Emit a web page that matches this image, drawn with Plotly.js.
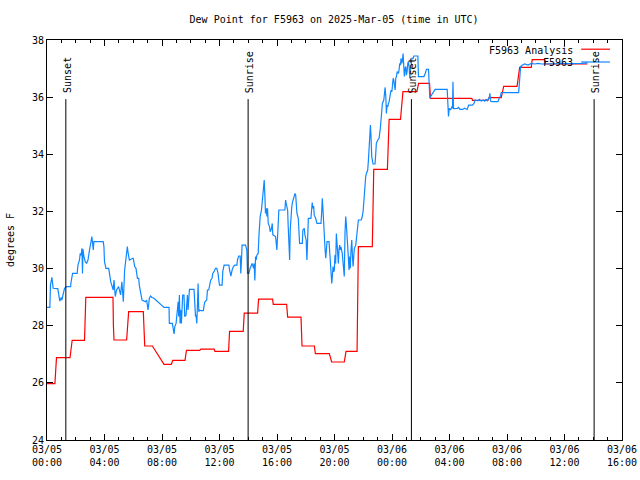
<!DOCTYPE html>
<html>
<head>
<meta charset="utf-8">
<script src="https://cdn.plot.ly/plotly-3.0.1.min.js"></script>
<style>html,body{margin:0;padding:0;background:#fff;}#chart{width:640px;height:480px;}</style>
</head>
<body>
<div id="chart"></div>
<script>
// Hours since 03/05 00:00 UTC
const tickHours = [0, 4, 8, 12, 16, 20, 24, 28, 32, 36, 40];
const tickDates = ['03/05','03/05','03/05','03/05','03/05','03/05','03/06','03/06','03/06','03/06','03/06'];
const tickTimes = ['00:00','04:00','08:00','12:00','16:00','20:00','00:00','04:00','08:00','12:00','16:00'];

const sunEvents = ['Sunset', 'Sunrise', 'Sunset', 'Sunrise'];
const sunHours = [1.31, 13.99, 25.35, 38.06];
const sunLineTop = 35.93;

const analysisName = 'F5963 Analysis';
const analysisHours = [0,0.55,0.66,1.6,1.75,2.61,2.7,4.59,4.62,4.66,5.54,5.68,6.7,6.8,7.33,8.14,8.65,8.75,9.6,9.7,
  10.63,10.7,11.63,11.68,12.63,12.7,13.65,13.72,14.65,14.72,15.69,15.74,16.67,16.74,17.67,17.74,18.6,18.67,19.64,19.8,
  20.68,20.8,21.57,21.66,22.63,22.73,23.68,23.8,24.59,24.76,25.73,25.85,26.61,26.68,29.55,29.6,30.67,30.75,31.6,31.77,
  32.7,32.88,33.69,33.75,34.62,34.68,37.6];
const analysisDewF = [25.97,25.97,26.88,26.88,27.49,27.49,28.99,28.99,28.0,27.5,27.5,28.49,28.49,27.29,27.29,26.65,26.65,26.79,26.79,27.14,
  27.14,27.18,27.18,27.1,27.1,27.8,27.8,28.44,28.44,28.93,28.93,28.75,28.75,28.3,28.3,27.29,27.29,27.02,27.02,26.73,
  26.73,27.1,27.1,30.77,30.77,33.47,33.47,35.22,35.22,36.19,36.19,36.48,36.48,35.96,35.96,35.89,35.89,35.98,35.98,36.38,
  36.38,37.04,37.04,37.31,37.31,37.16,37.16];

const stationName = 'F5963';
const stationHours = [
  0.0,0.2,0.24,0.34,0.43,0.66,0.75,0.89,0.99,1.03,1.13,1.22,1.36,1.64,1.68,1.78,2.1,2.15,2.26,2.31,
  2.38,2.43,2.47,2.5,2.57,2.66,2.75,2.85,2.94,2.99,3.08,3.12,3.22,3.26,3.91,3.96,4.0,4.1,4.29,4.33,
  4.43,4.61,4.66,4.75,4.84,4.98,5.12,5.21,5.31,5.4,5.49,5.59,5.63,5.73,5.96,6.0,6.1,6.19,6.29,6.38,
  6.42,6.52,6.61,6.84,6.93,7.03,7.12,7.21,7.3,7.44,8.14,8.49,8.51,8.72,8.79,8.84,8.89,8.98,9.07,9.12,
  9.16,9.21,9.26,9.3,9.35,9.39,9.44,9.53,9.58,9.67,9.77,9.81,9.86,9.91,10.23,10.28,10.33,10.37,10.42,10.47,
  10.51,10.56,10.6,10.7,10.88,10.93,10.98,11.11,11.16,11.25,11.3,11.39,11.48,11.53,11.62,11.72,11.81,11.9,11.95,12.0,
  12.18,12.23,12.32,12.65,12.7,12.79,12.88,12.97,13.07,13.21,13.25,13.34,13.44,13.48,13.53,13.57,13.81,13.86,13.9,13.95,
  14.04,14.13,14.23,14.27,14.37,14.41,14.46,14.51,14.55,14.6,14.69,14.74,14.79,14.83,14.92,14.97,15.02,15.06,15.11,15.16,
  15.2,15.25,15.3,15.34,15.39,15.48,15.53,15.62,15.67,15.71,15.9,15.95,15.99,16.04,16.13,16.55,16.6,16.64,16.69,16.74,
  16.78,16.83,16.88,16.92,16.97,17.02,17.06,17.16,17.25,17.3,17.34,17.39,17.48,17.53,17.57,17.76,17.8,17.9,17.94,18.03,
  18.08,18.13,18.18,18.36,18.41,18.45,18.5,18.55,18.59,18.69,18.78,19.06,19.11,19.15,19.2,19.25,19.29,19.34,19.39,19.43,
  19.48,19.62,19.67,19.71,19.76,19.81,19.85,19.9,19.94,19.99,20.03,20.08,20.13,20.17,20.22,20.27,20.31,20.36,20.41,20.45,
  20.54,20.59,20.64,20.68,20.73,20.78,20.82,20.87,20.92,20.96,21.01,21.06,21.1,21.15,21.2,21.24,21.29,21.34,21.38,21.48,
  21.52,21.57,21.62,21.66,21.85,21.9,21.99,22.03,22.08,22.13,22.17,22.22,22.31,22.36,22.4,22.45,22.5,22.54,22.59,22.68,
  22.82,22.87,22.91,23.01,23.1,23.19,23.24,23.29,23.33,23.43,23.47,23.52,23.57,23.61,23.66,23.71,23.75,23.8,23.89,23.94,
  23.99,24.03,24.08,24.12,24.17,24.22,24.26,24.31,24.36,24.45,24.49,24.54,24.59,24.63,24.68,24.73,24.77,24.82,24.86,24.91,
  24.96,25.0,25.05,25.1,25.14,25.19,25.24,25.28,25.33,25.38,25.47,25.52,25.8,25.84,26.22,26.31,26.4,26.54,26.59,26.63,
  26.68,26.82,26.91,27.0,27.84,27.89,27.93,27.98,28.07,28.17,28.21,28.24,28.28,28.54,28.63,28.72,28.91,29.05,29.23,29.33,
  29.6,29.7,29.79,29.98,30.07,30.21,30.35,30.44,30.54,30.63,30.77,30.81,30.86,30.95,31.37,31.46,31.55,31.6,32.81,32.86,
  32.91,32.95,33.0,33.05,33.23,33.46,33.69,33.92,34.16,34.39,37.2,37.6];
const stationDewF = [
  28.64,28.64,29.42,29.69,29.31,29.31,29.3,28.86,28.99,28.9,29.19,29.31,29.37,29.37,29.54,29.83,29.83,30.12,30.3,30.53,
  30.47,30.71,29.83,30.68,30.42,30.24,30.18,30.3,30.59,30.82,31.0,31.12,30.65,30.94,30.94,30.77,30.24,30.01,30.01,29.89,
  29.54,29.25,29.6,29.02,29.25,29.37,29.08,29.54,28.84,29.95,30.42,30.77,30.59,30.3,30.36,30.36,30.07,30.01,29.66,29.66,
  29.42,29.19,28.9,28.84,28.9,28.55,28.96,29.04,28.99,28.96,28.64,28.64,28.08,28.08,27.91,27.71,27.97,28.08,28.55,28.84,
  28.32,29.07,28.08,28.55,28.08,28.67,29.07,29.07,28.32,28.37,29.07,28.55,28.84,29.27,29.27,28.55,28.32,28.37,28.08,28.78,
  29.48,28.49,28.55,28.53,28.53,28.72,28.84,28.9,29.25,29.25,29.37,29.6,29.66,29.83,29.89,30.01,30.01,29.83,29.6,29.42,
  29.42,29.9,30.12,30.12,29.95,29.74,29.95,30.07,30.12,30.12,30.3,30.44,30.44,29.83,30.3,30.82,30.82,30.74,30.65,29.83,
  29.83,30.01,30.12,30.18,30.01,30.18,29.58,30.42,30.3,30.47,30.53,31.12,31.64,31.82,32.05,32.34,32.63,32.87,33.1,32.5,
  31.93,32.11,31.82,32.11,31.58,31.47,31.29,31.41,31.58,31.18,31.12,30.88,30.65,31.12,32.05,32.05,32.4,32.28,32.11,32.05,
  31.47,30.82,30.3,31.35,32.05,32.11,32.28,32.52,32.63,32.57,32.28,31.93,31.76,31.29,30.88,30.88,31.35,31.41,31.18,31.0,
  30.3,31.0,31.76,31.76,32.05,32.31,32.11,32.19,31.87,31.76,31.58,31.58,31.99,32.46,32.05,31.41,31.18,30.71,30.36,30.65,
  30.94,30.94,30.59,30.18,29.72,29.48,29.72,30.07,29.89,29.95,30.47,30.18,31.23,30.88,30.47,30.18,30.65,30.82,30.65,30.76,
  30.53,30.18,29.95,29.72,31.23,31.82,31.58,31.29,30.76,30.42,29.95,30.42,30.01,30.65,31.0,30.53,30.07,30.42,30.71,30.82,
  31.0,31.18,31.41,31.7,31.7,31.76,31.99,32.28,32.69,33.1,33.22,33.33,33.45,33.8,34.27,34.62,35.02,34.62,33.92,33.66,
  33.66,34.03,34.38,34.5,34.56,34.91,35.26,35.49,35.78,35.9,36.19,36.34,36.02,35.43,35.72,35.67,35.78,35.84,36.13,36.25,
  36.19,36.48,36.66,36.6,36.42,36.25,36.66,36.72,36.89,36.83,36.95,37.18,37.12,37.36,37.18,37.3,37.53,36.95,36.72,37.01,
  37.07,36.77,36.89,37.18,37.24,37.07,36.66,37.01,37.07,37.36,37.36,37.44,37.44,36.72,36.72,36.83,36.97,36.97,36.48,35.96,
  36.02,36.13,36.19,36.27,36.27,35.55,35.32,35.61,35.55,35.67,35.61,36.54,35.6,35.61,35.64,35.57,35.57,35.61,35.57,35.72,
  35.72,35.78,35.9,35.87,35.92,35.86,35.9,35.86,35.92,35.87,35.99,36.13,35.86,35.84,35.84,35.96,36.04,36.16,36.16,36.48,
  37.01,37.09,37.07,37.12,37.16,37.12,37.18,37.16,37.18,37.16,37.18,37.2];

const RED = '#ff0000';
const BLUE = '#0f87ff';
const FONT = 'DejaVu Sans Mono, Liberation Mono, monospace';

const traces = [
  {x: analysisHours, y: analysisDewF, name: analysisName, type: 'scatter', mode: 'lines',
   line: {color: RED, width: 1.2}, showlegend: false, hoverinfo: 'skip'},
  {x: stationHours, y: stationDewF, name: stationName, type: 'scatter', mode: 'lines',
   line: {color: BLUE, width: 1.2}, showlegend: false, hoverinfo: 'skip'}
];

const shapes = [];
const annotations = [];
sunEvents.forEach((ev, i) => {
  shapes.push({type: 'line', xref: 'x', yref: 'y', x0: sunHours[i], x1: sunHours[i], y0: 24, y1: sunLineTop,
    line: {color: '#000', width: 1}});
  annotations.push({x: sunHours[i], y: sunLineTop, xref: 'x', yref: 'y', text: ev, showarrow: false,
    textangle: -90, xanchor: 'center', yanchor: 'bottom', xshift: 1, yshift: 4,
    font: {family: FONT, size: 10, color: '#000'}});
});

// Key (gnuplot-style: label right-aligned, sample line on the right)
const keyNames = [analysisName, stationName];
const keyColors = [RED, BLUE];
const keyRowY = [0.975, 0.943];
keyNames.forEach((nm, i) => {
  annotations.push({xref: 'paper', yref: 'paper', x: 0.918, y: keyRowY[i], xanchor: 'right', yanchor: 'middle',
    text: nm, showarrow: false, font: {family: FONT, size: 10, color: '#000'}});
  shapes.push({type: 'line', xref: 'paper', yref: 'paper', x0: 0.929, x1: 0.979, y0: keyRowY[i] + 0.002, y1: keyRowY[i] + 0.002,
    line: {color: keyColors[i], width: 1.2}});
});

const layout = {
  width: 640, height: 480,
  margin: {l: 47, r: 18, t: 40, b: 40, pad: 0},
  paper_bgcolor: '#fff', plot_bgcolor: '#fff',
  font: {family: FONT, size: 10, color: '#000'},
  title: {text: 'Dew Point for F5963 on 2025-Mar-05 (time in UTC)', x: 0.522, xanchor: 'center',
          y: 0.96, yanchor: 'middle', font: {family: FONT, size: 10, color: '#000'}},
  xaxis: {
    range: [0, 40], tickmode: 'array', tickvals: tickHours,
    ticktext: tickHours.map((h, i) => tickDates[i] + '<br>' + tickTimes[i]),
    ticks: 'inside', ticklen: 6, tickcolor: '#000', tickwidth: 1,
    minor: {tickmode: 'linear', tick0: 0, dtick: 1, ticks: 'inside', ticklen: 3, tickcolor: '#000', showgrid: false},
    showline: true, linecolor: '#000', linewidth: 1, mirror: 'allticks',
    showgrid: false, zeroline: false, fixedrange: true,
    tickfont: {family: FONT, size: 10, color: '#000'}
  },
  yaxis: {
    range: [24, 38], tickmode: 'linear', tick0: 24, dtick: 2,
    ticks: 'inside', ticklen: 6, tickcolor: '#000', tickwidth: 1,
    showline: true, linecolor: '#000', linewidth: 1, mirror: 'allticks',
    showgrid: false, zeroline: false, fixedrange: true,
    tickfont: {family: FONT, size: 10, color: '#000'},
    title: {text: 'degrees F', standoff: 15, font: {family: FONT, size: 10, color: '#000'}}
  },
  shapes: shapes,
  annotations: annotations
};

Plotly.newPlot('chart', traces, layout, {staticPlot: true, displayModeBar: false});
</script>
</body>
</html>
